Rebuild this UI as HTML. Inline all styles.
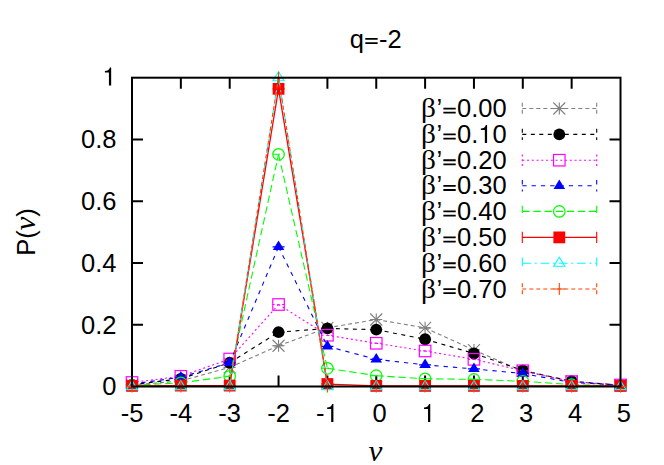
<!DOCTYPE html>
<html><head><meta charset="utf-8"><title>q=-2</title>
<style>
html,body{margin:0;padding:0;background:#fff;}
body{width:664px;height:465px;overflow:hidden;font-family:"Liberation Sans",sans-serif;}
svg{display:block;}
text{font-family:"Liberation Sans",sans-serif;font-size:25.5px;fill:#000;}
.sym{font-family:"Liberation Serif",serif;}
.symi{font-family:"Liberation Serif",serif;font-style:italic;}
</style></head><body>
<svg width="664" height="465" viewBox="0 0 664 465">
<rect width="664" height="465" fill="#fff"/>
<!-- title and axis labels -->
<text x="349.83" y="47.50">q</text><path d="M365.29,38.05h12.35v1.8h-12.35zM365.29,42.20h12.35v1.8h-12.35z" fill="#000"/><text x="378.90" y="47.50">-2</text>
<g transform="translate(34.5,232) rotate(-90)"><text x="-23.65" y="0">P(</text><text transform="translate(1.6,0) scale(1.225,1.127)" class="symi">ν</text><text x="15.15" y="0">)</text></g>
<text transform="translate(368.5,461) scale(1.225,1.127)" class="symi">ν</text>
<!-- tick labels -->
<text x="102.32" y="395.30">0</text>
<text x="81.06" y="333.54">0.2</text>
<text x="81.06" y="271.78">0.4</text>
<text x="81.06" y="210.02">0.6</text>
<text x="81.06" y="148.26">0.8</text>
<path transform="translate(102.32,85.50) scale(0.0255,-0.0255)" d="M259,0V505H102V568C205,580 268,610 301,709H347V0Z" fill="#000"/>
<text x="120.67" y="422.00">-5</text>
<text x="169.52" y="422.00">-4</text>
<text x="218.37" y="422.00">-3</text>
<text x="267.22" y="422.00">-2</text>
<text x="316.07" y="422.00">-</text><path transform="translate(324.56,422.00) scale(0.0255,-0.0255)" d="M259,0V505H102V568C205,580 268,610 301,709H347V0Z" fill="#000"/>
<text x="372.56" y="422.00">0</text>
<path transform="translate(421.41,422.00) scale(0.0255,-0.0255)" d="M259,0V505H102V568C205,580 268,610 301,709H347V0Z" fill="#000"/>
<text x="470.26" y="422.00">2</text>
<text x="519.11" y="422.00">3</text>
<text x="567.96" y="422.00">4</text>
<text x="616.81" y="422.00">5</text>
<!-- ticks -->
<path d="M180.85,386.5v-11M180.85,77.7v11M229.70,386.5v-11M229.70,77.7v11M278.55,386.5v-11M278.55,77.7v11M327.40,386.5v-11M327.40,77.7v11M376.25,386.5v-11M376.25,77.7v11M425.10,386.5v-11M425.10,77.7v11M473.95,386.5v-11M473.95,77.7v11M522.80,386.5v-11M522.80,77.7v11M571.65,386.5v-11M571.65,77.7v11M132.0,324.74h11M620.5,324.74h-11M132.0,262.98h11M620.5,262.98h-11M132.0,201.22h11M620.5,201.22h-11M132.0,139.46h11M620.5,139.46h-11" stroke="#000" stroke-width="2" fill="none"/>
<!-- legend -->
<text x="436.42" y="117.10">’</text><path d="M443.37,107.65h12.35v1.8h-12.35zM443.37,111.80h12.35v1.8h-12.35z" fill="#000"/><text x="456.98" y="117.10">0.00</text>
<text transform="translate(421.1,117.1) scale(1.15,1.03)" class="sym">β</text>
<g stroke="#808080" stroke-width="1.1" fill="none" stroke-dasharray="4,3"><path d="M522.3,108.5H596.7"/><path d="M522.3,102.8v11.4"/><path d="M596.7,102.8v11.4"/></g>
<path d="M553.30,108.50H565.30M559.30,102.50V114.50M553.30,102.50L565.30,114.50M553.30,114.50L565.30,102.50" stroke="#808080" stroke-width="1.1" fill="none"/>
<text x="436.42" y="143.00">’</text><path d="M443.37,133.55h12.35v1.8h-12.35zM443.37,137.70h12.35v1.8h-12.35z" fill="#000"/><text x="456.98" y="143.00">0.</text><path transform="translate(478.24,143.00) scale(0.0255,-0.0255)" d="M259,0V505H102V568C205,580 268,610 301,709H347V0Z" fill="#000"/><text x="492.42" y="143.00">0</text>
<text transform="translate(421.1,143.0) scale(1.15,1.03)" class="sym">β</text>
<g stroke="#000000" stroke-width="1.1" fill="none" stroke-dasharray="4,4.5"><path d="M522.3,134.4H596.7"/><path d="M522.3,128.7v11.4"/><path d="M596.7,128.7v11.4"/></g>
<circle cx="559.30" cy="134.40" r="5.9" fill="#000000"/>
<text x="436.42" y="168.80">’</text><path d="M443.37,159.35h12.35v1.8h-12.35zM443.37,163.50h12.35v1.8h-12.35z" fill="#000"/><text x="456.98" y="168.80">0.20</text>
<text transform="translate(421.1,168.8) scale(1.15,1.03)" class="sym">β</text>
<g stroke="#ff00ff" stroke-width="1.1" fill="none" stroke-dasharray="2,2.75"><path d="M522.3,160.2H596.7"/><path d="M522.3,154.5v11.4"/><path d="M596.7,154.5v11.4"/></g>
<rect x="553.55" y="154.45" width="11.5" height="11.5" fill="none" stroke="#ff00ff" stroke-width="1.2"/>
<text x="436.42" y="194.40">’</text><path d="M443.37,184.95h12.35v1.8h-12.35zM443.37,189.10h12.35v1.8h-12.35z" fill="#000"/><text x="456.98" y="194.40">0.30</text>
<text transform="translate(421.1,194.4) scale(1.15,1.03)" class="sym">β</text>
<g stroke="#0000ff" stroke-width="1.1" fill="none" stroke-dasharray="4.3,5"><path d="M522.3,185.8H596.7"/><path d="M522.3,180.1v11.4"/><path d="M596.7,180.1v11.4"/></g>
<path d="M559.30,179.50L565.10,189.00L553.50,189.00Z" fill="#0000ff"/>
<text x="436.42" y="220.00">’</text><path d="M443.37,210.55h12.35v1.8h-12.35zM443.37,214.70h12.35v1.8h-12.35z" fill="#000"/><text x="456.98" y="220.00">0.40</text>
<text transform="translate(421.1,220.0) scale(1.15,1.03)" class="sym">β</text>
<g stroke="#00ff00" stroke-width="1.1" fill="none" stroke-dasharray="7.4,3.7"><path d="M522.3,211.4H596.7"/><path d="M522.3,205.7v11.4"/><path d="M596.7,205.7v11.4"/></g>
<circle cx="559.30" cy="211.40" r="5.75" fill="none" stroke="#00ff00" stroke-width="1.2"/>
<text x="436.42" y="246.00">’</text><path d="M443.37,236.55h12.35v1.8h-12.35zM443.37,240.70h12.35v1.8h-12.35z" fill="#000"/><text x="456.98" y="246.00">0.50</text>
<text transform="translate(421.1,246.0) scale(1.15,1.03)" class="sym">β</text>
<g stroke="#ff0000" stroke-width="1.1" fill="none"><path d="M522.3,237.4H596.7"/><path d="M522.3,231.7v11.4"/><path d="M596.7,231.7v11.4"/></g>
<rect x="553.40" y="231.50" width="11.8" height="11.8" fill="#ff0000"/>
<text x="436.42" y="271.80">’</text><path d="M443.37,262.35h12.35v1.8h-12.35zM443.37,266.50h12.35v1.8h-12.35z" fill="#000"/><text x="456.98" y="271.80">0.60</text>
<text transform="translate(421.1,271.8) scale(1.15,1.03)" class="sym">β</text>
<g stroke="#00ffff" stroke-width="1.1" fill="none" stroke-dasharray="8.8,3.7,2,3.7"><path d="M522.3,263.2H596.7"/><path d="M522.3,257.5v11.4"/><path d="M596.7,257.5v11.4"/></g>
<path d="M559.30,257.30L564.90,266.30L553.70,266.30Z" fill="none" stroke="#00ffff" stroke-width="1.1"/>
<text x="436.42" y="297.60">’</text><path d="M443.37,288.15h12.35v1.8h-12.35zM443.37,292.30h12.35v1.8h-12.35z" fill="#000"/><text x="456.98" y="297.60">0.70</text>
<text transform="translate(421.1,297.6) scale(1.15,1.03)" class="sym">β</text>
<g stroke="#ff4500" stroke-width="1.1" fill="none" stroke-dasharray="4,3"><path d="M522.3,289.0H596.7"/><path d="M522.3,283.3v11.4"/><path d="M596.7,283.3v11.4"/></g>
<path d="M553.30,289.00H565.30M559.30,283.00V295.00" stroke="#ff4500" stroke-width="1.1" fill="none"/>
<!-- data -->
<g stroke="#808080" stroke-width="1.1" fill="none" stroke-dasharray="4,3"><path d="M132.00,384.96L180.85,380.94"/><path d="M180.85,380.94L229.70,367.35"/><path d="M229.70,367.35L278.55,345.74"/><path d="M278.55,345.74L327.40,327.83"/><path d="M327.40,327.83L376.25,319.49"/><path d="M376.25,319.49L425.10,327.83"/><path d="M425.10,327.83L473.95,350.06"/><path d="M473.95,350.06L522.80,371.06"/><path d="M522.80,371.06L571.65,381.56"/><path d="M571.65,381.56L620.50,385.26"/><path d="M126.00,384.96h12"/><path d="M174.85,380.94h12"/><path d="M223.70,367.35h12"/><path d="M272.55,345.74h12"/><path d="M321.40,327.83h12"/><path d="M370.25,319.49h12"/><path d="M419.10,327.83h12"/><path d="M467.95,350.06h12"/><path d="M516.80,371.06h12"/><path d="M565.65,381.56h12"/><path d="M614.50,385.26h12"/></g>
<path d="M126.00,384.96H138.00M132.00,378.96V390.96M126.00,378.96L138.00,390.96M126.00,390.96L138.00,378.96" stroke="#808080" stroke-width="1.1" fill="none"/>
<path d="M174.85,380.94H186.85M180.85,374.94V386.94M174.85,374.94L186.85,386.94M174.85,386.94L186.85,374.94" stroke="#808080" stroke-width="1.1" fill="none"/>
<path d="M223.70,367.35H235.70M229.70,361.35V373.35M223.70,361.35L235.70,373.35M223.70,373.35L235.70,361.35" stroke="#808080" stroke-width="1.1" fill="none"/>
<path d="M272.55,345.74H284.55M278.55,339.74V351.74M272.55,339.74L284.55,351.74M272.55,351.74L284.55,339.74" stroke="#808080" stroke-width="1.1" fill="none"/>
<path d="M321.40,327.83H333.40M327.40,321.83V333.83M321.40,321.83L333.40,333.83M321.40,333.83L333.40,321.83" stroke="#808080" stroke-width="1.1" fill="none"/>
<path d="M370.25,319.49H382.25M376.25,313.49V325.49M370.25,313.49L382.25,325.49M370.25,325.49L382.25,313.49" stroke="#808080" stroke-width="1.1" fill="none"/>
<path d="M419.10,327.83H431.10M425.10,321.83V333.83M419.10,321.83L431.10,333.83M419.10,333.83L431.10,321.83" stroke="#808080" stroke-width="1.1" fill="none"/>
<path d="M467.95,350.06H479.95M473.95,344.06V356.06M467.95,344.06L479.95,356.06M467.95,356.06L479.95,344.06" stroke="#808080" stroke-width="1.1" fill="none"/>
<path d="M516.80,371.06H528.80M522.80,365.06V377.06M516.80,365.06L528.80,377.06M516.80,377.06L528.80,365.06" stroke="#808080" stroke-width="1.1" fill="none"/>
<path d="M565.65,381.56H577.65M571.65,375.56V387.56M565.65,375.56L577.65,387.56M565.65,387.56L577.65,375.56" stroke="#808080" stroke-width="1.1" fill="none"/>
<path d="M614.50,385.26H626.50M620.50,379.26V391.26M614.50,379.26L626.50,391.26M614.50,391.26L626.50,379.26" stroke="#808080" stroke-width="1.1" fill="none"/>
<g stroke="#000000" stroke-width="1.1" fill="none" stroke-dasharray="4,4.5"><path d="M132.00,384.65L180.85,378.78"/><path d="M180.85,378.78L229.70,362.72"/><path d="M229.70,362.72L278.55,332.15"/><path d="M278.55,332.15L327.40,328.45"/><path d="M327.40,328.45L376.25,329.68"/><path d="M376.25,329.68L425.10,339.25"/><path d="M425.10,339.25L473.95,353.46"/><path d="M473.95,353.46L522.80,370.44"/><path d="M522.80,370.44L571.65,381.25"/><path d="M571.65,381.25L620.50,385.26"/><path d="M126.00,384.65h12"/><path d="M174.85,378.78h12"/><path d="M223.70,362.72h12"/><path d="M272.55,332.15h12"/><path d="M321.40,328.45h12"/><path d="M370.25,329.68h12"/><path d="M419.10,339.25h12"/><path d="M467.95,353.46h12"/><path d="M516.80,370.44h12"/><path d="M565.65,381.25h12"/><path d="M614.50,385.26h12"/></g>
<circle cx="132.00" cy="384.65" r="5.9" fill="#000000"/>
<circle cx="180.85" cy="378.78" r="5.9" fill="#000000"/>
<circle cx="229.70" cy="362.72" r="5.9" fill="#000000"/>
<circle cx="278.55" cy="332.15" r="5.9" fill="#000000"/>
<circle cx="327.40" cy="328.45" r="5.9" fill="#000000"/>
<circle cx="376.25" cy="329.68" r="5.9" fill="#000000"/>
<circle cx="425.10" cy="339.25" r="5.9" fill="#000000"/>
<circle cx="473.95" cy="353.46" r="5.9" fill="#000000"/>
<circle cx="522.80" cy="370.44" r="5.9" fill="#000000"/>
<circle cx="571.65" cy="381.25" r="5.9" fill="#000000"/>
<circle cx="620.50" cy="385.26" r="5.9" fill="#000000"/>
<g stroke="#ff00ff" stroke-width="1.1" fill="none" stroke-dasharray="2,2.75"><path d="M132.00,382.49L180.85,376.31"/><path d="M180.85,376.31L229.70,359.02"/><path d="M229.70,359.02L278.55,304.51"/><path d="M278.55,304.51L327.40,335.24"/><path d="M327.40,335.24L376.25,343.27"/><path d="M376.25,343.27L425.10,350.99"/><path d="M425.10,350.99L473.95,359.33"/><path d="M473.95,359.33L522.80,370.75"/><path d="M522.80,370.75L571.65,381.56"/><path d="M571.65,381.56L620.50,384.96"/><path d="M126.00,382.49h12"/><path d="M174.85,376.31h12"/><path d="M223.70,359.02h12"/><path d="M272.55,304.51h12"/><path d="M321.40,335.24h12"/><path d="M370.25,343.27h12"/><path d="M419.10,350.99h12"/><path d="M467.95,359.33h12"/><path d="M516.80,370.75h12"/><path d="M565.65,381.56h12"/><path d="M614.50,384.96h12"/></g>
<rect x="126.25" y="376.74" width="11.5" height="11.5" fill="none" stroke="#ff00ff" stroke-width="1.2"/>
<rect x="175.10" y="370.56" width="11.5" height="11.5" fill="none" stroke="#ff00ff" stroke-width="1.2"/>
<rect x="223.95" y="353.27" width="11.5" height="11.5" fill="none" stroke="#ff00ff" stroke-width="1.2"/>
<rect x="272.80" y="298.76" width="11.5" height="11.5" fill="none" stroke="#ff00ff" stroke-width="1.2"/>
<rect x="321.65" y="329.49" width="11.5" height="11.5" fill="none" stroke="#ff00ff" stroke-width="1.2"/>
<rect x="370.50" y="337.52" width="11.5" height="11.5" fill="none" stroke="#ff00ff" stroke-width="1.2"/>
<rect x="419.35" y="345.24" width="11.5" height="11.5" fill="none" stroke="#ff00ff" stroke-width="1.2"/>
<rect x="468.20" y="353.58" width="11.5" height="11.5" fill="none" stroke="#ff00ff" stroke-width="1.2"/>
<rect x="517.05" y="365.00" width="11.5" height="11.5" fill="none" stroke="#ff00ff" stroke-width="1.2"/>
<rect x="565.90" y="375.81" width="11.5" height="11.5" fill="none" stroke="#ff00ff" stroke-width="1.2"/>
<rect x="614.75" y="379.21" width="11.5" height="11.5" fill="none" stroke="#ff00ff" stroke-width="1.2"/>
<g stroke="#0000ff" stroke-width="1.1" fill="none" stroke-dasharray="4.3,5"><path d="M132.00,384.03L180.85,377.24"/><path d="M180.85,377.24L229.70,362.72"/><path d="M229.70,362.72L278.55,246.92"/><path d="M278.55,246.92L327.40,346.36"/><path d="M327.40,346.36L376.25,359.33"/><path d="M376.25,359.33L425.10,364.88"/><path d="M425.10,364.88L473.95,368.90"/><path d="M473.95,368.90L522.80,373.53"/><path d="M522.80,373.53L571.65,382.49"/><path d="M571.65,382.49L620.50,385.26"/><path d="M126.00,384.03h12"/><path d="M174.85,377.24h12"/><path d="M223.70,362.72h12"/><path d="M272.55,246.92h12"/><path d="M321.40,346.36h12"/><path d="M370.25,359.33h12"/><path d="M419.10,364.88h12"/><path d="M467.95,368.90h12"/><path d="M516.80,373.53h12"/><path d="M565.65,382.49h12"/><path d="M614.50,385.26h12"/></g>
<path d="M132.00,377.73L137.80,387.23L126.20,387.23Z" fill="#0000ff"/>
<path d="M180.85,370.94L186.65,380.44L175.05,380.44Z" fill="#0000ff"/>
<path d="M229.70,356.42L235.50,365.92L223.90,365.92Z" fill="#0000ff"/>
<path d="M278.55,240.62L284.35,250.12L272.75,250.12Z" fill="#0000ff"/>
<path d="M327.40,340.06L333.20,349.56L321.60,349.56Z" fill="#0000ff"/>
<path d="M376.25,353.03L382.05,362.53L370.45,362.53Z" fill="#0000ff"/>
<path d="M425.10,358.58L430.90,368.08L419.30,368.08Z" fill="#0000ff"/>
<path d="M473.95,362.60L479.75,372.10L468.15,372.10Z" fill="#0000ff"/>
<path d="M522.80,367.23L528.60,376.73L517.00,376.73Z" fill="#0000ff"/>
<path d="M571.65,376.19L577.45,385.69L565.85,385.69Z" fill="#0000ff"/>
<path d="M620.50,378.96L626.30,388.46L614.70,388.46Z" fill="#0000ff"/>
<g stroke="#00ff00" stroke-width="1.1" fill="none" stroke-dasharray="7.4,3.7"><path d="M132.00,385.26L180.85,382.79"/><path d="M180.85,382.79L229.70,376.31"/><path d="M229.70,376.31L278.55,154.28"/><path d="M278.55,154.28L327.40,368.28"/><path d="M327.40,368.28L376.25,375.69"/><path d="M376.25,375.69L425.10,378.78"/><path d="M425.10,378.78L473.95,379.40"/><path d="M473.95,379.40L522.80,381.25"/><path d="M522.80,381.25L571.65,384.65"/><path d="M571.65,384.65L620.50,385.88"/><path d="M126.00,385.26h12"/><path d="M174.85,382.79h12"/><path d="M223.70,376.31h12"/><path d="M272.55,154.28h12"/><path d="M321.40,368.28h12"/><path d="M370.25,375.69h12"/><path d="M419.10,378.78h12"/><path d="M467.95,379.40h12"/><path d="M516.80,381.25h12"/><path d="M565.65,384.65h12"/><path d="M614.50,385.88h12"/></g>
<circle cx="132.00" cy="385.26" r="5.75" fill="none" stroke="#00ff00" stroke-width="1.2"/>
<circle cx="180.85" cy="382.79" r="5.75" fill="none" stroke="#00ff00" stroke-width="1.2"/>
<circle cx="229.70" cy="376.31" r="5.75" fill="none" stroke="#00ff00" stroke-width="1.2"/>
<circle cx="278.55" cy="154.28" r="5.75" fill="none" stroke="#00ff00" stroke-width="1.2"/>
<circle cx="327.40" cy="368.28" r="5.75" fill="none" stroke="#00ff00" stroke-width="1.2"/>
<circle cx="376.25" cy="375.69" r="5.75" fill="none" stroke="#00ff00" stroke-width="1.2"/>
<circle cx="425.10" cy="378.78" r="5.75" fill="none" stroke="#00ff00" stroke-width="1.2"/>
<circle cx="473.95" cy="379.40" r="5.75" fill="none" stroke="#00ff00" stroke-width="1.2"/>
<circle cx="522.80" cy="381.25" r="5.75" fill="none" stroke="#00ff00" stroke-width="1.2"/>
<circle cx="571.65" cy="384.65" r="5.75" fill="none" stroke="#00ff00" stroke-width="1.2"/>
<circle cx="620.50" cy="385.88" r="5.75" fill="none" stroke="#00ff00" stroke-width="1.2"/>
<g stroke="#ff0000" stroke-width="1.3" fill="none"><path d="M132.00,385.88L180.85,385.57"/><path d="M180.85,385.57L229.70,385.57"/><path d="M229.70,385.57L278.55,88.82"/><path d="M278.55,88.82L327.40,384.03"/><path d="M327.40,384.03L376.25,385.88"/><path d="M376.25,385.88L425.10,385.88"/><path d="M425.10,385.88L473.95,385.88"/><path d="M473.95,385.88L522.80,385.88"/><path d="M522.80,385.88L571.65,385.88"/><path d="M571.65,385.88L620.50,385.88"/><path d="M126.00,385.88h12"/><path d="M174.85,385.57h12"/><path d="M223.70,385.57h12"/><path d="M272.55,88.82h12"/><path d="M321.40,384.03h12"/><path d="M370.25,385.88h12"/><path d="M419.10,385.88h12"/><path d="M467.95,385.88h12"/><path d="M516.80,385.88h12"/><path d="M565.65,385.88h12"/><path d="M614.50,385.88h12"/></g>
<rect x="126.10" y="379.98" width="11.8" height="11.8" fill="#ff0000"/>
<rect x="174.95" y="379.67" width="11.8" height="11.8" fill="#ff0000"/>
<rect x="223.80" y="379.67" width="11.8" height="11.8" fill="#ff0000"/>
<rect x="272.65" y="82.92" width="11.8" height="11.8" fill="#ff0000"/>
<rect x="321.50" y="378.13" width="11.8" height="11.8" fill="#ff0000"/>
<rect x="370.35" y="379.98" width="11.8" height="11.8" fill="#ff0000"/>
<rect x="419.20" y="379.98" width="11.8" height="11.8" fill="#ff0000"/>
<rect x="468.05" y="379.98" width="11.8" height="11.8" fill="#ff0000"/>
<rect x="516.90" y="379.98" width="11.8" height="11.8" fill="#ff0000"/>
<rect x="565.75" y="379.98" width="11.8" height="11.8" fill="#ff0000"/>
<rect x="614.60" y="379.98" width="11.8" height="11.8" fill="#ff0000"/>
<g stroke="#00ffff" stroke-width="1.1" fill="none" stroke-dasharray="8.8,3.7,2,3.7"><path d="M132.00,386.50L180.85,386.50"/><path d="M180.85,386.50L229.70,386.50"/><path d="M229.70,386.50L278.55,77.70"/><path d="M278.55,77.70L327.40,386.50"/><path d="M327.40,386.50L376.25,386.50"/><path d="M376.25,386.50L425.10,386.50"/><path d="M425.10,386.50L473.95,386.50"/><path d="M473.95,386.50L522.80,386.50"/><path d="M522.80,386.50L571.65,386.50"/><path d="M571.65,386.50L620.50,386.50"/><path d="M126.00,386.50h12"/><path d="M174.85,386.50h12"/><path d="M223.70,386.50h12"/><path d="M272.55,77.70h12"/><path d="M321.40,386.50h12"/><path d="M370.25,386.50h12"/><path d="M419.10,386.50h12"/><path d="M467.95,386.50h12"/><path d="M516.80,386.50h12"/><path d="M565.65,386.50h12"/><path d="M614.50,386.50h12"/></g>
<path d="M132.00,380.60L137.60,389.60L126.40,389.60Z" fill="none" stroke="#00ffff" stroke-width="1.1"/>
<path d="M180.85,380.60L186.45,389.60L175.25,389.60Z" fill="none" stroke="#00ffff" stroke-width="1.1"/>
<path d="M229.70,380.60L235.30,389.60L224.10,389.60Z" fill="none" stroke="#00ffff" stroke-width="1.1"/>
<path d="M278.55,71.80L284.15,80.80L272.95,80.80Z" fill="none" stroke="#00ffff" stroke-width="1.1"/>
<path d="M327.40,380.60L333.00,389.60L321.80,389.60Z" fill="none" stroke="#00ffff" stroke-width="1.1"/>
<path d="M376.25,380.60L381.85,389.60L370.65,389.60Z" fill="none" stroke="#00ffff" stroke-width="1.1"/>
<path d="M425.10,380.60L430.70,389.60L419.50,389.60Z" fill="none" stroke="#00ffff" stroke-width="1.1"/>
<path d="M473.95,380.60L479.55,389.60L468.35,389.60Z" fill="none" stroke="#00ffff" stroke-width="1.1"/>
<path d="M522.80,380.60L528.40,389.60L517.20,389.60Z" fill="none" stroke="#00ffff" stroke-width="1.1"/>
<path d="M571.65,380.60L577.25,389.60L566.05,389.60Z" fill="none" stroke="#00ffff" stroke-width="1.1"/>
<path d="M620.50,380.60L626.10,389.60L614.90,389.60Z" fill="none" stroke="#00ffff" stroke-width="1.1"/>
<g stroke="#ff4500" stroke-width="1.1" fill="none" stroke-dasharray="4,3"><path d="M132.00,386.50L180.85,386.50"/><path d="M180.85,386.50L229.70,386.50"/><path d="M229.70,386.50L278.55,77.70"/><path d="M278.55,77.70L327.40,386.50"/><path d="M327.40,386.50L376.25,386.50"/><path d="M376.25,386.50L425.10,386.50"/><path d="M425.10,386.50L473.95,386.50"/><path d="M473.95,386.50L522.80,386.50"/><path d="M522.80,386.50L571.65,386.50"/><path d="M571.65,386.50L620.50,386.50"/><path d="M126.00,386.50h12"/><path d="M174.85,386.50h12"/><path d="M223.70,386.50h12"/><path d="M272.55,77.70h12"/><path d="M321.40,386.50h12"/><path d="M370.25,386.50h12"/><path d="M419.10,386.50h12"/><path d="M467.95,386.50h12"/><path d="M516.80,386.50h12"/><path d="M565.65,386.50h12"/><path d="M614.50,386.50h12"/></g>
<path d="M126.00,386.50H138.00M132.00,380.50V392.50" stroke="#ff4500" stroke-width="1.1" fill="none"/>
<path d="M174.85,386.50H186.85M180.85,380.50V392.50" stroke="#ff4500" stroke-width="1.1" fill="none"/>
<path d="M223.70,386.50H235.70M229.70,380.50V392.50" stroke="#ff4500" stroke-width="1.1" fill="none"/>
<path d="M272.55,77.70H284.55M278.55,71.70V83.70" stroke="#ff4500" stroke-width="1.1" fill="none"/>
<path d="M321.40,386.50H333.40M327.40,380.50V392.50" stroke="#ff4500" stroke-width="1.1" fill="none"/>
<path d="M370.25,386.50H382.25M376.25,380.50V392.50" stroke="#ff4500" stroke-width="1.1" fill="none"/>
<path d="M419.10,386.50H431.10M425.10,380.50V392.50" stroke="#ff4500" stroke-width="1.1" fill="none"/>
<path d="M467.95,386.50H479.95M473.95,380.50V392.50" stroke="#ff4500" stroke-width="1.1" fill="none"/>
<path d="M516.80,386.50H528.80M522.80,380.50V392.50" stroke="#ff4500" stroke-width="1.1" fill="none"/>
<path d="M565.65,386.50H577.65M571.65,380.50V392.50" stroke="#ff4500" stroke-width="1.1" fill="none"/>
<path d="M614.50,386.50H626.50M620.50,380.50V392.50" stroke="#ff4500" stroke-width="1.1" fill="none"/>
<!-- border on top -->
<rect x="132.0" y="77.7" width="488.5" height="308.8" fill="none" stroke="#000" stroke-width="2"/>
</svg></body></html>
